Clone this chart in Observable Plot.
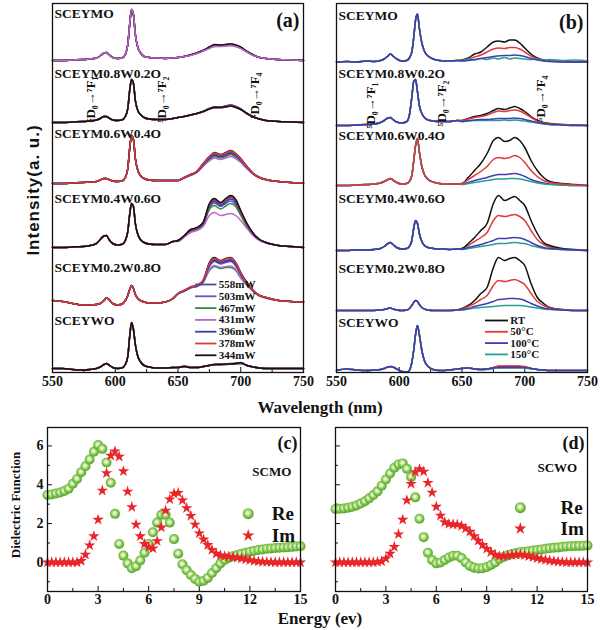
<!DOCTYPE html>
<html>
<head>
<meta charset="utf-8">
<script src="https://cdn.jsdelivr.net/npm/d3@7"></script>
<script src="https://cdn.jsdelivr.net/npm/@observablehq/plot@0.6"></script>
<style>
  html, body { margin: 0; padding: 0; background: #fff; }
  #fig { position: relative; width: 600px; height: 630px; overflow: hidden; background: #fff; }
  .panel { position: absolute; }
  .lab { position: absolute; white-space: nowrap; color: #111; font-weight: bold; line-height: 1; }
</style>
</head>
<body>
<div id="fig"></div>
<script>
// ---------------- categories ----------------
const samples = ["SCEYMO", "SCEYM0.8W0.2O", "SCEYM0.6W0.4O", "SCEYM0.4W0.6O", "SCEYM0.2W0.8O", "SCEYWO"];
const powers = ["558mW", "503mW", "467mW", "431mW", "396mW", "378mW", "344mW"];
const temps = ["RT", "50°C", "100°C", "150°C"];

// ---------------- wavelength grids / ticks ----------------
const wlPeak = [550,558,566,574,580,585,588,591,593,595,598,602,606,608,610,611.5,613,614.5,616,618,620,623,627,632,640,646];
const wlBand = [650,655,660,665,670,675,679,684,688,692,696,700,705,710,715,720,730,740,750];
const wlTicks = [550, 600, 650, 700, 750];
const wlMinorTicks = [575, 625, 675, 725];

// ---------------- panel (a): power dependence ----------------
const aStack = [312, 250, 189, 125, 72, 4];
const aPeak_SCEYMO = [0,0,0.5,1,1.5,2.5,4.5,7.5,8,6,3,2,3,6,16,36,51,46,26,13,8,4,3,2.5,2,2.5];
const aPeak_M08 = [0,0,0.5,1,1.5,2.5,4,6,6,4.5,2.5,2,3,6,14,32,43,39,22,12,8,5,3.5,3,3,4];
const aPeak_M06 = [0,0,0.5,1,1.5,2,3.5,5,5,4,2.5,2,3,6,15,35,48,44,25,13,8,5,3.5,3,3,3];
const aPeak_M04 = [0,0,0.5,1,2,4,8,11.5,12,8,4,2.5,3.5,7,16,33,44,41,24,13,8,5,3.5,3,3,6];
const aPeak_M02 = [0,-1,-3,-4.5,-4.5,-4,-3,0,2.5,1,-3,-4.5,-3,0,5,11,15,12,6,2,0,-1.5,-2.5,-2.5,-1.5,2];
const aPeak_SCEYWO = [0,0,-1,-1.5,-1,0,1.5,4,5,3.5,1,0,1,4,12,32,46,39,24,12,7,3,1.5,0.5,0.5,1];
// rows in order of powers (558 ... 344 mW)
const aBand_SCEYMO = [
  [3,4,5.5,7.5,10,13,15,15,15.5,16,15,13,9,5.5,3,2,1,0.5,0],
  [3,4,5.5,7.5,10,12.5,14.5,14.5,15,15.5,14.5,12.5,8.5,5.5,3,2,1,0.5,0],
  [3,4,5.5,7,9.5,12.5,14,14.5,14.5,15,14,12.5,8.5,5,3,2,1,0.5,0],
  [3,4,5,7,9.5,12,14,14,14.5,15,14,12,8.5,5,3,2,1,0.5,0],
  [3,4,5.5,7.5,10,13,15,15,15.5,16,15,13,9,5.5,3,2,1,0.5,0],
  [3,4,5.5,7.5,10,13.5,15.5,15.5,16,16.5,15.5,13,9,5.5,3,2,1,0.5,0],
  [3,4,5.5,7.5,10,13.5,16,15.5,16,16.5,15.5,13.5,9,5.5,3,2,1,0.5,0]
];
const aBand_M08 = [
  [5,6,7.5,9,11,14,15.5,15.5,16.5,17,16,13.5,9,5.5,3.5,2,1,0.5,0],
  [5,6,7.5,9,11,14,15.5,15.5,16.5,17.5,16,13.5,9,5.5,3.5,2,1,0.5,0],
  [5,6,7.5,9,11,13.5,15,15,16,16.5,15.5,13,9,5.5,3.5,2,1,0.5,0],
  [5,6,7.5,9,10.5,13.5,14.5,15,15.5,16.5,15,13,8.5,5.5,3.5,2,1,0.5,0],
  [5,6,7.5,9,11,14,15.5,15.5,16.5,17.5,16,13.5,9,5.5,3.5,2,1,0.5,0],
  [5,6,7.5,9,11,14,15,15,16,17,15.5,13,9,5.5,3.5,2,1,0.5,0],
  [5,6,7.5,9,11,13.5,15,15,15.5,16.5,15,13,9,5.5,3.5,2,1,0.5,0]
];
const aBand_M06 = [
  [3,6,9,12,19,26,29.5,28,29.5,31.5,29,24,16.5,10,6,4,2,1,0.5],
  [3,6,8.5,11.5,18.5,25,28,26.5,28,30,27.5,23,16,9.5,6,4,2,1,0.5],
  [3,5.5,8.5,11,18,24,27,25.5,27,29,26.5,22,15.5,9.5,6,4,2,1,0.5],
  [3,5.5,8,11,17,22.5,25.5,24,25.5,27,25,21,14.5,9,5.5,3.5,2,1,0.5],
  [3,6,8.5,11.5,18.5,25,28.5,27,28.5,30.5,28,23,16,9.5,6,4,2,1,0.5],
  [3,6,9,12,19.5,26.5,30.5,28.5,30.5,32.5,29.5,24.5,16.5,10,6,4,2,1,0.5],
  [3,6,9,12,20,27,31,29,31,33,30,25,17,10,6,4,2,1,0.5]
];
const aBand_M04 = [
  [7,11.5,17,19,24,42,47,43,47,50,46,35.5,23,14,8,5,2,1,0],
  [7,11.5,16.5,18.5,23,40,44.5,41,44,46.5,43,33.5,22,13.5,8,5,2,1,0],
  [6.5,11,16,18,22.5,38,42,38.5,41.5,44,41,32,21,13,7.5,5,2,1,0],
  [6,10.5,15,17,21,32,35,32,33,34,32,27,19,11.5,7,4.5,2,1,0],
  [7,11.5,17,19,23.5,41,46,42,45.5,48.5,45,35,23,13.5,8,5,2,1,0],
  [7,12,17.5,19.5,24.5,43,48,44,48,51,47,36,23.5,14,8,5,2,1,0],
  [7,12,18,20,25,44,49,45,49,52,48,37,24,14,8,5,2,1,0]
];
const aBand_M02 = [
  [7,10,13,14.5,19.5,36,41,38.5,40,41,36.5,27,17.5,10,5,3,0,-1,-1.5],
  [7,10,13,14.5,19,34,39,36.5,38,39,34.5,25.5,16.5,9.5,5,3,0,-1,-1.5],
  [6.5,9.5,12.5,14,18,30,34,32,33,33,30,22.5,15,9,4.5,2.5,0,-1,-1.5],
  [6.5,9.5,12.5,14,18,31,35,33,34,34.5,31,23,15.5,9,4.5,2.5,0,-1,-1.5],
  [6.5,9.5,13,14.5,19,35,40,37.5,39,40,35.5,26,17,9.5,5,3,0,-1,-1.5],
  [7,10,13.5,15,20,37,42,39.5,41.5,42.5,37.5,27.5,17.5,10,5,3,0,-1,-1.5],
  [7,10,13.5,15,20,38,43,40,42,43,38,28,18,10,5,3,0,-1,-1.5]
];
const aBand_SCEYWO = [
  [1,2.5,1,1,2,3,4,4,4.5,4.5,5,5.5,3,1.5,0.5,0,0,0,0],
  [1,2,1,1,2,3,4,4.5,4.5,4.5,5,5,3,1.5,0.5,0,0,0,0],
  [1,2,1,1,2,3,3.5,4,4,4.5,4.5,5,3,1.5,0.5,0,0,0,0],
  [1,2.5,1.5,1,2,3,4,4,4.5,5,5,5.5,3,1.5,0.5,0,0,0,0],
  [1,2,1,1,2,3,4,4,4,4.5,5,5,3,1.5,0.5,0,0,0,0],
  [1,2.5,1,1.5,2,3.5,4,4.5,4.5,5,5,5.5,3,1.5,0.5,0,0,0,0],
  [1,2,1,1,2,3,4,4,4.5,4.5,5,6,3,1.5,0.5,0,0,0,0]
];

// ---------------- panel (b): temperature dependence ----------------
const bStack = [310.5, 247, 187, 122, 62, 2];
const bPeak_SCEYMO = [0,0.5,0,1,0.5,1.5,3,6,8,6,3,1,1.5,4,10,24,42,48,34,19,11,6,3,1.5,1,1.5];
const bPeak_M08 = [0,0,0.5,1,1.5,3,5,7.5,8,6,3.5,2.5,4,10,28,44,46,34,20,12,8,5.5,4.5,4,4,5];
const bPeak_M06 = [0,0,0.5,1,1.5,2.5,4,6,7,5.5,3,1.5,2,4,10,24,40,47,34,19,11,6,3.5,2,1.5,1.5];
const bPeak_M04 = [0,0,0.5,0.5,1,2,4,7,8,6,3,1.5,2,4,10,22,30,27,17,9,5,3,2,1.5,1,1.5];
const bPeak_M02 = [0,0,0,0,0,0.5,1,2,2.5,1.5,0.5,0,0.5,2,5,8,10,9,6,3,1.5,0.5,0,0,0,0.5];
const bPeak_SCEYWO = [0,1.5,0.5,0,0.5,1,2,3.5,4,3.5,1.5,-1,-1.5,0,8,20,36,45,36,20,10,4,1,0,0.5,1.5];
// rows in order of temps (RT, 50, 100, 150 °C)
const bBand_SCEYMO = [
  [2,4,8,10,15,20,21,20,22,22,19,14,8,4,2,1,0.5,0,0],
  [1.5,3,5,7,10,13,14,13.5,14.5,14.5,13,10,6,3,1.5,1,0.5,0,0],
  [1,1.5,2.5,3.5,4.5,5.5,6,6.5,6.5,7,6.5,5.5,3.5,2,1,0.5,0,0,0],
  [1.5,3,2,3.5,2.5,4,3,4.5,3,4,3.5,3,2.5,3,1.5,2.5,1.5,2,1]
];
const bBand_M08 = [
  [5,7,9,10,12,15,17,16,17.5,19,17,14,9,5,3,2,1,0.5,0],
  [5,6.5,8,9,10.5,13,14.5,14,15,15.5,14.5,12,8,4.5,2.5,1.5,1,0.5,0],
  [4,5,5.5,6,6,6.5,7,7,7,7.5,7,6,4.5,3,2,1,0.5,0,0],
  [4,4.5,5,5,5,5,5,5.5,5,5.5,5,4.5,3.5,2.5,1.5,1,0.5,0,0]
];
const bBand_M06 = [
  [2,8,15,22,32,45,48,44,45,48,45,38,25,15,8,4,2,1,0],
  [2,6,10,14,19,26,28,27,28,30,28,23,15,9,5,3,1.5,0.5,0],
  [1.5,3,5,6.5,8,10,11,11,11.5,12,11,9,6,4,2.5,1.5,0.5,0,0],
  [1,2,3,4,5,6,6.5,6.5,7,7,6.5,5.5,4,2.5,1.5,1,0.5,0,0]
];
const bBand_M04 = [
  [2,7,13,20,27,47,55,50,52,54,50,45,30,17,8,5,2,1,0],
  [2,5,9,13,18,30,35,34,35,36,34,30,20,11,6,3.5,1.5,0.5,0],
  [1.5,3,4.5,6,8,10,12,12,12.5,13,12.5,11,8,5,3,2,1,0.5,0],
  [1,2,3,4,5,6,7,7,7.5,8,7.5,7,5,3.5,2,1.5,1,0.5,0]
];
const bBand_M02 = [
  [2,5,10,17,23,43,53,50,52,53,50,45,27,13,7,3,1,0,0],
  [1.5,4,7,11,15,25,30,29,30,31,29,26,17,9,5,2.5,1,0,0],
  [1,2,4,5.5,7,9,11,11.5,12,12,11.5,10,7,4.5,2.5,1.5,0.5,0,0],
  [0.5,1.5,2.5,3,3.5,4,4.5,5,5,5,5,4.5,3.5,2.5,1.5,1,0.5,0,0]
];
const bBand_SCEYWO = [
  [2,2.5,1.5,1,1.5,3,4,4,4,4,4,3.5,2,1,0.5,0,0,0,0],
  [2,2.5,1.5,1,1.5,3,4.5,4.5,4.5,4.5,4.5,4,2,1,0.5,0,0,0,0],
  [2,2.5,1.5,1,1.5,2.5,3,3,3,3,3,3,2,1,0.5,0,0,0,0],
  [2,2.5,1.5,1,1,2,2.5,2.5,2.5,2.5,2.5,2.5,1.5,1,0.5,0,0,0,0]
];

// ---------------- panels (c), (d): dielectric functions ----------------
const energy = [0,0.25,0.5,0.75,1,1.25,1.5,1.75,2,2.25,2.5,2.75,3,3.25,3.5,3.75,4,4.25,4.5,4.75,
  5,5.25,5.5,5.75,6,6.25,6.5,6.75,7,7.25,7.5,7.75,8,8.25,8.5,8.75,9,9.25,9.5,9.75,
  10,10.25,10.5,10.75,11,11.25,11.5,11.75,12,12.25,12.5,12.75,13,13.25,13.5,13.75,14,14.25,14.5,14.75,15];
const reSCMO = [3.47,3.5,3.55,3.6,3.68,3.8,4.05,4.3,4.65,4.95,
  5.3,5.7,6.05,5.85,5.15,4.1,2.5,0.95,0.35,-0.05,
  -0.3,-0.2,0.1,0.5,0.95,1.55,2.05,2.45,2.45,2.05,
  1.2,0.45,-0.1,-0.4,-0.65,-0.85,-1.0,-0.95,-0.8,-0.55,
  -0.3,-0.06,0.12,0.24,0.32,0.38,0.45,0.5,0.55,0.6,
  0.64,0.67,0.7,0.72,0.74,0.76,0.77,0.78,0.8,0.82,0.83];
const imSCMO = [0,0,0,0,0,0,0,0,0.08,0.4,
  0.88,1.35,2.2,3.7,4.6,5.5,5.72,5.45,4.7,3.65,
  2.85,1.95,1.35,0.95,0.78,0.72,1.1,1.8,2.67,3.25,
  3.55,3.58,3.2,2.8,2.4,1.95,1.5,1.18,0.9,0.65,
  0.45,0.36,0.32,0.3,0.27,0.24,0.2,0.16,0.12,0.08,
  0.05,0.03,0.02,0.01,0,0,0,0,0,0,0];
const reSCWO = [2.75,2.76,2.78,2.82,2.87,2.93,3.03,3.15,3.3,3.47,
  3.66,3.95,4.27,4.58,4.88,5.05,5.1,4.82,4.4,3.35,
  2.25,1.3,0.5,0.12,-0.05,0.0,0.12,0.25,0.34,0.34,
  0.22,0.0,-0.18,-0.27,-0.31,-0.3,-0.24,-0.13,0.0,0.17,
  0.28,0.37,0.43,0.48,0.52,0.55,0.58,0.61,0.64,0.67,
  0.7,0.73,0.75,0.77,0.8,0.82,0.83,0.84,0.85,0.86,0.87];
const imSCWO = [0,0,0,0,0,0,0,0,0,0,
  0.02,0.05,0.2,0.45,0.8,1.45,2.2,3.2,4.05,4.65,
  4.8,4.68,4.1,3.6,2.87,2.41,2.07,1.98,1.96,1.95,
  1.88,1.75,1.58,1.35,1.12,0.9,0.7,0.53,0.4,0.32,
  0.32,0.35,0.38,0.4,0.4,0.37,0.32,0.27,0.22,0.17,
  0.13,0.09,0.06,0.04,0.02,0,0,0,0,0,0];
const energyTicks = [0, 3, 6, 9, 12, 15];
const energyMinor = [1.5, 4.5, 7.5, 10.5, 13.5];
const dielTicks = [0, 2, 4, 6];
const dielMinor = [-1, 1, 3, 5];

// ---------------- styles (not data) ----------------
const powerColors = ["#4f45b0", "#5a5cc4", "#2f8c3c", "#b766cc", "#3b3bb4", "#e03a36", "#111111"];
const tempColors = ["#111111", "#e0393a", "#3e3eb2", "#2a9c94"];
const ordersA = [[0,1,2,4,5,6,3],[0,1,2,3,4,5,6],[0,1,2,3,4,6,5],[0,1,2,3,4,5,6],[0,1,2,3,4,6,5],[0,1,2,3,4,5,6]];
const ordersB = [[0,1,3,2],[0,1,3,2],[0,2,3,1],[1,0,3,2],[0,1,3,2],[0,1,3,2]];
const serif = "'Liberation Serif', 'Times New Roman', serif";
const baseStyle = {background: "transparent", overflow: "visible", fontFamily: serif, fontWeight: "bold", fontSize: "14px", color: "#111"};

// ---------------- build ----------------
function check(arr, n, name) { if (arr.length !== n) throw new Error(name + " has " + arr.length + " values, expected " + n); }
const aPeaks = [aPeak_SCEYMO, aPeak_M08, aPeak_M06, aPeak_M04, aPeak_M02, aPeak_SCEYWO];
const aBands = [aBand_SCEYMO, aBand_M08, aBand_M06, aBand_M04, aBand_M02, aBand_SCEYWO];
const bPeaks = [bPeak_SCEYMO, bPeak_M08, bPeak_M06, bPeak_M04, bPeak_M02, bPeak_SCEYWO];
const bBands = [bBand_SCEYMO, bBand_M08, bBand_M06, bBand_M04, bBand_M02, bBand_SCEYWO];
[reSCMO, imSCMO, reSCWO, imSCWO].forEach((a, i) => check(a, energy.length, "dielectric " + i));

function buildRows(stack, peaks, bands, series, orders, tag) {
  const rows = [];
  const wls = wlPeak.concat(wlBand);
  samples.forEach((s, i) => {
    check(peaks[i], wlPeak.length, tag + " peak " + s);
    orders[i].forEach(k => {
      check(bands[i][k], wlBand.length, tag + " band " + s + " " + series[k]);
      const vals = peaks[i].concat(bands[i][k]);
      wls.forEach((w, j) => rows.push({key: s + "|" + series[k], series: series[k], wl: w, y: stack[i] + vals[j]}));
    });
  });
  return rows;
}
const rowsA = buildRows(aStack, aPeaks, aBands, powers, ordersA, "a");
const rowsB = buildRows(bStack, bPeaks, bBands, temps, ordersB, "b");

const fig = document.getElementById("fig");
function put(node, left, top) {
  node.classList.add("panel");
  node.style.left = left + "px";
  node.style.top = top + "px";
  fig.appendChild(node);
}
function nmAxes() {
  return [
    Plot.axisX(wlMinorTicks, {tickSize: -3, tickFormat: () => "", label: null}),
    Plot.axisX(wlTicks, {tickSize: -5, tickPadding: 9, label: null})
  ];
}

// ---- panel (a)
const labelYA = [359, 299, 239, 174, 105, 52];
const legendA = powers.map((p, i) => ({p, y: 88 - i * 11.8}));
const annA = [{x: 580.3, y: 273, t: "⁵D₀→⁷F₁"}, {x: 636.9, y: 273, t: "⁵D₀→⁷F₂"}, {x: 710.9, y: 277, t: "⁵D₀→⁷F₄"}];
const plotA = Plot.plot({
  width: 318, height: 395, marginLeft: 52, marginRight: 15, marginTop: 3, marginBottom: 23,
  x: {domain: [550, 750]}, y: {domain: [0, 369], axis: null},
  color: {domain: powers, range: powerColors},
  style: baseStyle,
  marks: [
    ...nmAxes(),
    Plot.line(rowsA, {x: "wl", y: "y", z: "key", stroke: "series", strokeWidth: 1.5, curve: "monotone-x"}),
    Plot.text(samples, {x: 550, y: (d, i) => labelYA[i], text: d => d, textAnchor: "start", dx: 2, fontSize: 13.5, fontWeight: "bold"}),
    Plot.text(annA, {x: "x", y: "y", text: "t", rotate: -90, fontSize: 13, fontWeight: "bold"}),
    Plot.ruleY(legendA, {y: "y", x1: 664, x2: 681, stroke: "p", strokeWidth: 1.8}),
    Plot.text(legendA, {x: 682.5, y: "y", text: "p", textAnchor: "start", fontSize: 11, fontWeight: "bold"}),
    Plot.text(["(a)"], {frameAnchor: "top-right", textAnchor: "end", lineAnchor: "middle", dx: -4, dy: 17, fontSize: 20, fontWeight: "bold"}),
    Plot.frame({stroke: "#111", strokeWidth: 1.3})
  ]
});
put(plotA, 0, 0);

// ---- panel (b)
const labelYB = [357, 299, 237, 174, 104, 50];
const legendB = temps.map((t, i) => ({t, y: 52 - i * 11.3}));
const annB = [{x: 577.1, y: 267, t: "⁵D₀→⁷F₁"}, {x: 633.7, y: 269, t: "⁵D₀→⁷F₂"}, {x: 712.5, y: 274, t: "⁵D₀→⁷F₄"}];
const plotB = Plot.plot({
  width: 282, height: 395, marginLeft: 18, marginRight: 13, marginTop: 3, marginBottom: 23,
  x: {domain: [550, 750]}, y: {domain: [0, 369], axis: null},
  color: {domain: temps, range: tempColors},
  style: baseStyle,
  marks: [
    ...nmAxes(),
    Plot.line(rowsB, {x: "wl", y: "y", z: "key", stroke: "series", strokeWidth: 1.5, curve: "monotone-x"}),
    Plot.text(samples, {x: 550, y: (d, i) => labelYB[i], text: d => d, textAnchor: "start", dx: 2, fontSize: 13.5, fontWeight: "bold"}),
    Plot.text(annB, {x: "x", y: "y", text: "t", rotate: -90, fontSize: 13, fontWeight: "bold"}),
    Plot.ruleY(legendB, {y: "y", x1: 668.7, x2: 687, stroke: "t", strokeWidth: 1.8}),
    Plot.text(legendB, {x: 688.5, y: "y", text: "t", textAnchor: "start", fontSize: 11, fontWeight: "bold"}),
    Plot.text(["(b)"], {frameAnchor: "top-right", textAnchor: "end", lineAnchor: "middle", dx: -4, dy: 19, fontSize: 20, fontWeight: "bold"}),
    Plot.frame({stroke: "#111", strokeWidth: 1.3})
  ]
});
put(plotB, 318, 0);

// ---- panels (c), (d)
function sphereDefs(svg, id) {
  const defs = document.createElementNS("http://www.w3.org/2000/svg", "defs");
  defs.innerHTML = `<radialGradient id="${id}" cx="0.46" cy="0.44" r="0.58">
    <stop offset="0" stop-color="#ffffff"/><stop offset="0.28" stop-color="#d2edb4"/>
    <stop offset="0.62" stop-color="#7cc447"/><stop offset="1" stop-color="#4e9f26"/></radialGradient>`;
  svg.insertBefore(defs, svg.firstChild);
}
function dielPlot(re, im, opts) {
  const rows = energy.map((e, i) => ({e, re: re[i], im: im[i]}));
  const svg = Plot.plot({
    width: opts.width, height: 195, marginLeft: opts.ml, marginRight: opts.mr, marginTop: 7, marginBottom: 24,
    x: {domain: [0, 15]}, y: {domain: [-1.5, 6.95]},
    style: baseStyle,
    marks: [
      Plot.axisX(energyMinor, {tickSize: -3, tickFormat: () => "", label: null}),
      Plot.axisX(energyTicks, {tickSize: -5, tickPadding: 8, label: null}),
      Plot.axisY(dielMinor, {tickSize: -3, tickFormat: () => "", label: null}),
      Plot.axisY(dielTicks, {tickSize: -5, tickPadding: 9, label: null, tickFormat: opts.yLabels ? d => d : () => ""}),
      Plot.dot(rows, {x: "e", y: "re", r: 5, fill: `url(#${opts.grad})`, stroke: "none"}),
      Plot.dot(rows, {x: "e", y: "im", r: 3.6, symbol: "star", fill: "#e8262a", stroke: "none"}),
      Plot.dot([0], {x: opts.legX, y: opts.legReY, r: 5.5, fill: `url(#${opts.grad})`, stroke: "none"}),
      Plot.dot([0], {x: opts.legX, y: opts.legImY, r: 3.9, symbol: "star", fill: "#e8262a", stroke: "none"}),
      Plot.text(["Re"], {x: opts.legTX, y: opts.legReY, textAnchor: "start", fontSize: 19, fontWeight: "bold"}),
      Plot.text(["Im"], {x: opts.legTX, y: opts.legImY, textAnchor: "start", fontSize: 19, fontWeight: "bold"}),
      Plot.text([opts.name], {x: opts.nameX, y: opts.nameY, fontSize: 13, fontWeight: "bold"}),
      Plot.text([opts.tag], {frameAnchor: "top-right", textAnchor: "end", lineAnchor: "middle", dx: -3, dy: 16, fontSize: 18, fontWeight: "bold"}),
      Plot.frame({stroke: "#111", strokeWidth: 1.3})
    ]
  });
  sphereDefs(svg, opts.grad);
  return svg;
}
const plotC = dielPlot(reSCMO, imSCMO, {width: 318, ml: 47, mr: 18, yLabels: true, grad: "sphC", legX: 11.9, legReY: 2.51, legImY: 1.38, legTX: 13.3, name: "SCMO", nameX: 13.3, nameY: 4.67, tag: "(c)"});
put(plotC, 0, 420);
const plotD = dielPlot(reSCWO, imSCWO, {width: 282, ml: 17, mr: 13, yLabels: false, grad: "sphD", legX: 11.0, legReY: 2.82, legImY: 1.74, legTX: 13.4, name: "SCWO", nameX: 13.2, nameY: 4.87, tag: "(d)"});
put(plotD, 318, 420);

// ---- shared axis titles
function label(text, cx, cy, rot, css) {
  const d = document.createElement("div");
  d.className = "lab";
  d.textContent = text;
  d.style.left = cx + "px";
  d.style.top = cy + "px";
  d.style.transform = `translate(-50%, -50%) rotate(${rot}deg)`;
  Object.assign(d.style, css);
  fig.appendChild(d);
}
label("Intensity(a. u.)", 33, 190, -90, {fontFamily: "'Liberation Sans', Arial, sans-serif", fontSize: "17px", letterSpacing: "1px"});
label("Wavelength (nm)", 320, 407, 0, {fontFamily: serif, fontSize: "17px"});
label("Dielectric Function", 15, 505, -90, {fontFamily: serif, fontSize: "13px"});
label("Energy (ev)", 320, 618, 0, {fontFamily: serif, fontSize: "17px"});
</script>
</body>
</html>
